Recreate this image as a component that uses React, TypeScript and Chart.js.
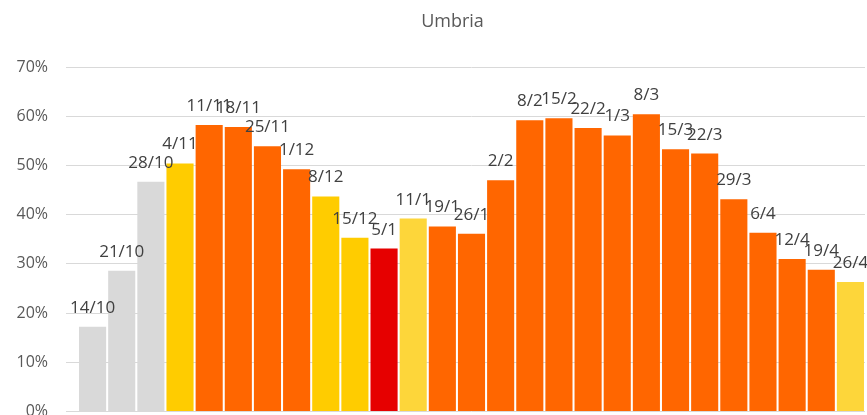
import React, { useEffect, useRef } from "react";
import { Chart, registerables } from "chart.js";

Chart.register(...registerables);

const chartTitle = "Umbria";

const weeks = [
  "14/10", "21/10", "28/10", "4/11", "11/11", "18/11", "25/11", "1/12", "8/12", "15/12",
  "5/1", "11/1", "19/1", "26/1", "2/2", "8/2", "15/2", "22/2", "1/3", "8/3",
  "15/3", "22/3", "29/3", "6/4", "12/4", "19/4", "26/4",
];

const occupancy = [
  17.2, 28.6, 46.7, 50.4, 58.2, 57.8, 53.9, 49.2, 43.7, 35.3,
  33.1, 39.2, 37.6, 36.1, 47.0, 59.2, 59.6, 57.6, 56.1, 60.4,
  53.3, 52.4, 43.1, 36.3, 31.0, 28.8, 26.3,
];

const zones = [
  "none", "none", "none", "yellow", "orange", "orange", "orange", "orange", "yellow", "yellow",
  "red", "lightyellow", "orange", "orange", "orange", "orange", "orange", "orange", "orange", "orange",
  "orange", "orange", "orange", "orange", "orange", "orange", "lightyellow",
];

const zoneColors: Record<string, string> = {
  none: "#d9d9d9",
  yellow: "#ffcc00",
  lightyellow: "#fdd63a",
  orange: "#ff6600",
  red: "#e60000",
};

const yTicks = [0, 10, 20, 30, 40, 50, 60, 70];

const barLabels = {
  id: "barLabels",
  afterDatasetsDraw(chart: any) {
    const ctx = chart.ctx;
    const meta = chart.getDatasetMeta(0);
    ctx.save();
    ctx.font = "17px 'Open Sans'";
    ctx.fillStyle = "#404040";
    ctx.textAlign = "center";
    ctx.textBaseline = "alphabetic";
    meta.data.forEach((bar: any, i: number) => {
      ctx.fillText(weeks[i], bar.x, bar.y - 14);
    });
    ctx.restore();
  },
};

const titlePlugin = {
  id: "offsetTitle",
  afterDraw(chart: any) {
    const ctx = chart.ctx;
    ctx.save();
    ctx.font = "18px 'Open Sans'";
    ctx.fillStyle = "#595959";
    ctx.textAlign = "center";
    ctx.textBaseline = "alphabetic";
    // centred over the (wider) original plot frame
    const cx = (chart.chartArea.left - 38 + chart.chartArea.right) / 2;
    ctx.fillText(chartTitle, cx, 27);
    ctx.restore();
  },
};

export default function App() {
  const ref = useRef<HTMLCanvasElement>(null);
  useEffect(() => {
    if (!ref.current) return;
    const chart = new Chart(ref.current, {
      type: "bar",
      data: {
        labels: weeks,
        datasets: [
          {
            data: occupancy,
            backgroundColor: zones.map((z) => zoneColors[z]),
            categoryPercentage: 1,
            barPercentage: 0.93,
            borderWidth: 0,
          },
        ],
      },
      options: {
        animation: false,
        responsive: false,
        devicePixelRatio: 1,
        layout: { padding: { left: 16, right: 2, top: 67, bottom: 20 } },
        plugins: {
          legend: { display: false },
          tooltip: { enabled: false },
          title: { display: false },
        },
        scales: {
          x: { display: false },
          y: {
            min: 0,
            max: 70,
            afterFit: (scale: any) => {
              scale.width = 62;
            },
            afterBuildTicks: (scale: any) => {
              scale.ticks = yTicks.map((v) => ({ value: v }));
            },
            ticks: {
              color: "#595959",
              padding: 18,
              font: { family: "'Open Sans'", size: 16 },
              callback: (v: any) => v + "%",
            },
            grid: {
              color: "#d9d9d9",
              lineWidth: 1,
              drawTicks: true,
              tickLength: 12,
              tickColor: "#d9d9d9",
            },
            border: { display: false },
          },
        },
      },
      plugins: [barLabels, titlePlugin],
    });
    return () => chart.destroy();
  }, []);
  return (
    <div
      style={{
        position: "fixed",
        left: 0,
        top: 0,
        width: 867,
        height: 415,
        overflow: "hidden",
        background: "#ffffff",
      }}
    >
      <canvas ref={ref} width={867} height={439} style={{ display: "block" }} />
    </div>
  );
}
